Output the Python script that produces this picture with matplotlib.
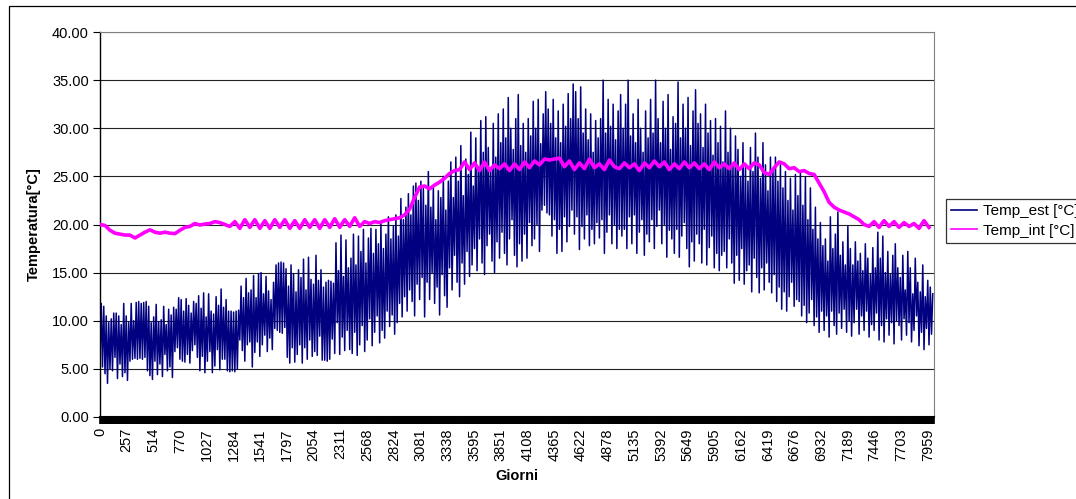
import numpy as np
import matplotlib
matplotlib.use("Agg")
from matplotlib import pyplot as plt
from matplotlib.patches import Rectangle
from matplotlib.ticker import FixedLocator, MultipleLocator

plt.rcParams["font.family"] = ["Liberation Sans", "DejaVu Sans"]

# daily extremes of the outdoor temperature (one pair per day, 334 days)
est_hi = [
    11.8, 11.5, 10.5, 9.8, 10.2, 10.8, 10.8, 10.5, 9.6, 11.8,
    10.5, 9.8, 11.8, 10.0, 11.9, 12.0, 11.8, 11.9, 12.0, 11.5,
    9.8, 10.4, 11.7, 9.9, 10.1, 11.5, 9.6, 11.2, 10.6, 11.4,
    11.2, 12.4, 12.2, 11.0, 12.3, 11.6, 10.8, 12.0, 11.8, 12.6,
    11.3, 12.9, 10.4, 12.8, 11.0, 10.7, 12.5, 11.6, 13.3, 11.4,
    12.2, 11.0, 11.0, 10.9, 11.0, 11.1, 13.6, 12.4, 14.4, 12.9,
    13.2, 14.7, 12.4, 14.9, 15.0, 12.8, 14.6, 13.1, 12.2, 14.0,
    15.8, 16.0, 16.1, 16.0, 15.4, 13.6, 15.8, 14.9, 13.0, 15.3,
    14.5, 16.4, 13.2, 16.6, 14.3, 13.8, 16.8, 14.2, 15.3, 13.5,
    14.0, 14.2, 14.1, 13.9, 18.1, 15.2, 18.9, 14.6, 18.4, 15.5,
    16.5, 19.0, 15.8, 18.8, 17.2, 19.5, 16.0, 18.6, 19.6, 17.0,
    19.5, 18.0, 20.2, 17.5, 19.0, 20.8, 18.5, 19.8, 21.0, 18.8,
    22.7, 20.5, 21.8, 23.2, 21.0, 24.0, 24.3, 22.5, 24.5, 23.8,
    22.0, 25.5, 21.8, 24.0, 20.5, 23.5, 22.8, 25.0, 21.5, 24.5,
    26.5, 22.8, 27.0, 24.5, 28.2, 23.0, 26.8, 25.2, 29.6, 24.0,
    29.0, 26.0, 30.8, 27.5, 31.2, 28.0, 25.5, 30.5, 27.0, 31.5,
    28.5, 32.0, 29.0, 33.2, 30.0, 27.8, 31.0, 33.5, 28.2, 30.5,
    27.5, 31.0, 29.2, 32.8, 30.0, 33.0, 28.4, 31.5, 33.8, 32.0,
    30.5, 33.0, 29.0, 31.8, 28.5, 32.5, 30.2, 33.6, 31.0, 34.6,
    33.8, 31.0, 34.3, 29.5, 32.0, 28.8, 31.5, 27.5, 30.8, 29.0,
    31.0, 35.0, 29.5, 33.0, 30.2, 32.5, 28.8, 31.8, 33.5, 30.0,
    32.5, 35.0, 29.2, 31.5, 28.5, 33.0, 30.0, 27.5, 31.8, 29.0,
    33.0, 29.5, 35.0, 31.0, 28.5, 32.8, 30.0, 33.5, 27.8, 31.2,
    30.5, 34.8, 29.0, 32.5, 30.0, 33.2, 28.2, 31.8, 34.0, 30.5,
    31.5, 28.0, 32.5, 29.5, 30.8, 27.2, 31.0, 28.5, 30.2, 26.5,
    31.8, 27.5, 30.0, 26.2, 29.2, 27.8, 25.0, 28.5, 26.0, 24.5,
    28.0, 25.5, 29.5, 27.0, 24.8, 28.5, 26.2, 23.5, 27.0, 25.8,
    27.0, 24.5, 26.2, 23.8, 25.5, 22.5, 24.8, 21.5, 25.2, 23.0,
    25.5, 22.0, 24.9, 20.5, 23.8, 19.5, 21.8, 18.5, 20.2, 17.8,
    18.5, 16.2, 20.8, 17.5, 19.0, 21.3, 16.8, 18.2, 15.8, 19.8,
    17.5, 15.8, 18.2, 16.2, 17.0, 15.2, 18.0, 16.5, 14.8, 17.6,
    15.5, 19.2, 16.5, 18.8, 15.0, 17.2, 14.8, 16.8, 18.0, 15.5,
    14.5, 16.8, 13.2, 17.2, 15.5, 12.8, 16.5, 14.0, 13.0, 15.8,
    12.5, 14.2, 13.5, 12.8,
]
est_lo = [
    6.0, 5.2, 4.5, 3.5, 5.0, 4.8, 6.2, 4.0, 5.5, 4.2,
    4.6, 3.8, 5.8, 6.0, 6.1, 6.0, 6.1, 6.0, 6.2, 4.8,
    4.3, 3.9, 5.8, 4.4, 5.5, 4.2, 6.5, 4.8, 5.2, 4.1,
    6.8, 7.2, 6.0, 5.8, 5.7, 6.5, 5.6, 6.9, 7.5, 6.2,
    4.8, 6.3, 4.6, 5.8, 6.8, 4.6, 5.3, 7.0, 4.9, 6.0,
    6.0, 4.8, 4.7, 4.8, 4.7, 5.0, 8.0, 6.9, 5.8, 7.5,
    7.8, 5.2, 6.7, 7.8, 6.3, 7.5, 8.5, 6.8, 8.2, 7.0,
    9.2, 9.0, 8.8, 8.7, 9.3, 6.2, 5.6, 7.2, 5.7, 6.5,
    7.5, 5.6, 7.2, 6.0, 8.0, 6.3, 6.8, 6.4, 8.4, 5.9,
    5.9, 5.8, 6.0, 8.1, 6.6, 9.8, 6.5, 8.3, 6.9, 9.0,
    7.0, 6.6, 8.8, 6.4, 7.5, 9.5, 6.8, 8.0, 10.2, 7.4,
    8.8, 10.5, 7.7, 9.0, 8.2, 11.0, 9.4, 10.6, 8.6, 9.8,
    11.8, 10.4, 12.5, 11.0, 13.2, 12.0, 10.5, 13.8, 12.2, 14.5,
    10.4, 14.0, 12.2, 15.0, 11.8, 13.5, 10.6, 14.8, 12.6, 11.4,
    15.5, 13.2, 16.8, 14.0, 12.5, 16.0, 13.8, 17.2, 14.6, 15.8,
    17.5, 15.2, 18.5, 16.0, 14.8, 17.8, 19.0, 16.2, 15.0, 18.2,
    16.5, 19.2, 17.0, 15.8, 18.5, 20.5, 16.8, 15.6, 18.0, 16.2,
    19.0, 16.5, 20.2, 17.8, 18.5, 20.0, 17.2, 21.5, 22.0, 21.2,
    21.0, 18.8, 20.5, 17.0, 19.5, 17.2, 20.8, 18.2, 19.8, 21.5,
    19.0, 20.8, 17.4, 19.8, 18.5, 21.0, 17.8, 19.5, 18.0, 20.2,
    18.6, 20.5, 17.0, 19.2, 21.0, 18.0, 20.0, 17.5, 19.5, 18.8,
    19.5, 17.5, 20.8, 18.0, 21.0, 17.0, 19.2, 20.5, 16.8, 19.0,
    18.2, 20.5, 17.5, 19.8, 21.5, 18.0, 20.0, 16.6, 19.4, 18.5,
    17.0, 19.5, 16.6, 18.8, 20.2, 17.5, 15.6, 18.2, 16.2, 19.0,
    18.0, 16.0, 19.5, 15.8, 17.6, 18.8, 15.5, 17.0, 15.2, 16.8,
    17.2, 15.5, 18.5, 16.0, 13.9, 16.8, 14.2, 17.5, 13.8, 15.2,
    15.8, 13.0, 16.5, 14.5, 12.9, 15.5, 13.2, 16.0, 14.0, 12.9,
    14.8, 12.0, 13.5, 11.2, 13.0, 11.0, 12.5, 14.0, 11.5, 12.2,
    12.0, 10.5, 11.6, 9.8, 10.8, 12.2, 9.5, 10.4, 8.8, 11.0,
    9.0, 10.5, 8.3, 11.0, 9.5, 8.6, 10.8, 9.2, 11.2, 8.8,
    10.0, 8.4, 9.8, 11.2, 8.6, 10.5, 9.0, 11.0, 8.3, 9.6,
    9.0, 10.8, 8.0, 9.5, 7.8, 10.2, 8.5, 9.8, 7.6, 10.0,
    9.5, 8.0, 10.2, 8.5, 9.8, 7.8, 9.0, 10.5, 7.4, 8.8,
    7.0, 9.2, 7.5, 8.6,
]

# indoor temperature, one value every two days (167 values)
t_int = [
    20.0, 19.9, 19.4, 19.1, 19.0, 18.9, 18.9, 18.6, 18.9, 19.2,
    19.45, 19.2, 19.1, 19.2, 19.1, 19.05, 19.4, 19.7, 19.8, 20.1,
    19.95, 20.05, 20.1, 20.3, 20.2, 20.0, 19.8, 20.3, 19.6, 20.5,
    19.7, 20.5, 19.6, 20.4, 19.6, 20.5, 19.7, 20.5, 19.6, 20.4,
    19.6, 20.5, 19.7, 20.5, 19.6, 20.5, 19.7, 20.6, 19.7, 20.5,
    19.8, 20.7, 19.8, 20.3, 20.1, 20.3, 20.2, 20.4, 20.5, 20.6,
    20.7, 21.0, 21.6, 22.8, 23.9, 24.0, 23.7, 24.1, 24.4, 24.8,
    25.3, 25.6, 25.7, 26.5, 25.7, 26.4, 25.6, 26.5, 25.6, 26.2,
    25.8, 26.3, 25.6, 26.3, 25.7, 26.5, 25.9, 26.6, 26.2, 26.8,
    26.7, 26.8, 26.9, 26.0, 26.6, 25.7, 26.4, 25.8, 26.8, 25.9,
    26.3, 25.7, 26.7, 26.0, 25.8, 26.4, 25.9, 26.3, 25.6, 26.4,
    25.9, 26.6, 26.0, 26.5, 25.7, 26.3, 25.8, 26.5, 25.9, 26.4,
    25.8, 26.3, 25.7, 26.5, 25.9, 26.3, 25.8, 26.4, 25.7, 26.3,
    25.8, 26.4, 26.2, 25.4, 25.2, 25.9, 26.5, 26.3, 25.8, 25.9,
    25.5, 25.6, 25.3, 25.2, 24.3, 23.4, 22.3, 21.8, 21.5, 21.3,
    21.1, 20.8, 20.5, 20.0, 19.8, 20.3, 19.7, 20.4, 19.8, 20.3,
    19.7, 20.2, 19.8, 20.1, 19.6, 20.4, 19.7,
]

x_labels = [0, 257, 514, 770, 1027, 1284, 1541, 1797, 2054, 2311, 2568,
            2824, 3081, 3338, 3595, 3851, 4108, 4365, 4622, 4878, 5135,
            5392, 5649, 5905, 6162, 6419, 6676, 6932, 7189, 7446, 7703, 7959]
y_ticks = [0, 5, 10, 15, 20, 25, 30, 35, 40]
n_hours = 8016

# hourly axis: low early in the day, high in the afternoon
days = np.arange(len(est_hi))
x_est = np.column_stack([days * 24, days * 24 + 12]).ravel()
y_est = np.column_stack([est_lo, est_hi]).ravel()
x_int = np.arange(len(t_int)) * 48

fig = plt.figure(figsize=(10.76, 4.99), dpi=100)
ax = fig.add_axes([100 / 1076, 1 - 417 / 499, 834 / 1076, 385 / 499])

# outer chart frame (cropped on the right and bottom)
fig.patches.append(Rectangle((9 / 1076, -0.2), 1.5, 1.2 - 6 / 499,
                             transform=fig.transFigure, fill=False,
                             ec="black", lw=0.9, zorder=0))

for y in y_ticks[1:]:
    ax.axhline(y, color="#222222", lw=0.8, zorder=1)

(l_est,) = ax.plot(x_est, y_est, color="#000080", lw=1.1, zorder=2,
                   label="Temp_est [°C]")
(l_int,) = ax.plot(x_int, t_int, color="#FF00FF", lw=2.6, zorder=3,
                   label="Temp_int [°C]")

ax.set_xlim(0, n_hours)
ax.set_ylim(0, 40)
ax.set_yticks(y_ticks)
ax.set_yticklabels([f"{v:.2f}" for v in y_ticks], fontsize=10.5)
ax.xaxis.set_major_locator(FixedLocator(x_labels))
ax.set_xticklabels([str(v) for v in x_labels], rotation=90, fontsize=10.5)
# every category gets a tick, which merges into a solid band
ax.xaxis.set_minor_locator(MultipleLocator(6))
ax.tick_params(axis="x", which="both", direction="out", length=5,
               width=1.2, color="black", pad=3)
ax.tick_params(axis="y", direction="out", length=5, width=0.8, pad=3)

ax.spines["left"].set_color("black")
ax.spines["left"].set_linewidth(1.0)
ax.spines["bottom"].set_linewidth(1.5)
ax.spines["right"].set_color("#808080")
ax.spines["top"].set_color("#808080")

ax.set_xlabel("Giorni", fontsize=10.5, fontweight="bold", labelpad=6)
ax.set_ylabel("Temperatura[°C]", fontsize=10.5, fontweight="bold",
              labelpad=8)

leg = fig.legend(handles=[l_est, l_int], loc="upper left",
                 bbox_to_anchor=(946 / 1076, 1 - 199 / 499), fontsize=11,
                 frameon=True, fancybox=False, handlelength=1.7,
                 handletextpad=0.35, borderpad=0.35, labelspacing=0.35,
                 borderaxespad=0)
leg.get_frame().set_edgecolor("black")
leg.get_frame().set_linewidth(0.9)
for h in leg.legend_handles:
    h.set_linewidth(1.2)

fig.savefig("out.png", dpi=100)
